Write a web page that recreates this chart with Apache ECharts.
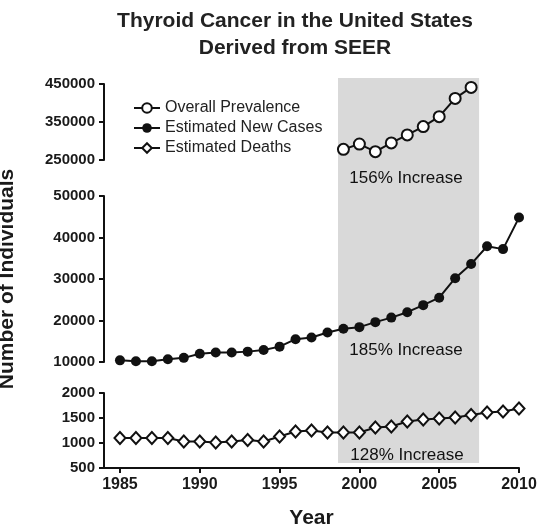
<!DOCTYPE html>
<html>
<head>
<meta charset="utf-8">
<script src="https://cdn.jsdelivr.net/npm/echarts@6/dist/echarts.min.js"></script>
<style>
  html, body { margin: 0; padding: 0; background: #fff; }
  #main { width: 540px; height: 527px; }
</style>
</head>
<body>
<div id="main"></div>
<script>
// data
var years = [1985, 1986, 1987, 1988, 1989, 1990, 1991, 1992, 1993, 1994, 1995, 1996, 1997,
  1998, 1999, 2000, 2001, 2002, 2003, 2004, 2005, 2006, 2007, 2008, 2009, 2010];
var prevYears = [1999, 2000, 2001, 2002, 2003, 2004, 2005, 2006, 2007];
var prevalence = [278000, 292000, 272000, 295000, 316000, 338000, 364000, 412000, 441000];
var newCases = [10400, 10200, 10200, 10650, 11000, 12000, 12300, 12300, 12500, 12900, 13700, 15500, 15900,
  17100, 18000, 18400, 19600, 20700, 22000, 23700, 25500, 30200, 33600, 37900, 37200, 44800];
var deaths = [1100, 1100, 1100, 1100, 1030, 1030, 1010, 1030, 1060, 1030, 1130, 1230, 1250,
  1210, 1210, 1210, 1310, 1330, 1430, 1470, 1490, 1510, 1560, 1610, 1630, 1690];
var xTicks = [1985, 1990, 1995, 2000, 2005, 2010];
var xMin = 1984;
var shadeRange = [1998.66, 2007.5];
var increaseLabels = ['156% Increase', '185% Increase', '128% Increase'];

var FONT = '"Liberation Sans", Arial, sans-serif';

function pairs(xs, ys) {
  var out = [];
  for (var i = 0; i < xs.length; i++) out.push([xs[i], ys[i]]);
  return out;
}
function plain(v) {
  return String(v);
}
// vertical line on the left edge of each panel (the y axis spine)
var spine = {
  silent: true,
  symbol: 'none',
  label: { show: false },
  lineStyle: { type: 'solid', color: '#111', width: 2 },
  data: [{ xAxis: xMin }]
};

var myChart = echarts.init(document.getElementById('main'));

var hiddenX = function (idx) {
  return { type: 'value', gridIndex: idx, min: xMin, max: 2010, show: false };
};
var yAxisBase = function (idx, min, max, step) {
  return {
    type: 'value', gridIndex: idx, min: min, max: max, interval: step,
    axisLine: { show: true, onZero: false, lineStyle: { color: '#111', width: 2 } },
    axisTick: { show: true, length: 5, lineStyle: { color: '#111', width: 2 } },
    axisLabel: { color: '#1a1a1a', fontFamily: FONT, fontWeight: 'bold', fontSize: 15, margin: 9, formatter: plain },
    splitLine: { show: false }
  };
};
var gridBox = function (top, height) {
  return { left: 104, right: 21, top: top, height: height, containLabel: false, outerBoundsMode: 'none' };
};

var option = {
  animation: false,
  grid: [
    gridBox(84, 76),
    gridBox(196, 166),
    gridBox(393, 75),
    // grid for the shaded band across all panels
    gridBox(78, 385)
  ],
  xAxis: [
    hiddenX(0),
    hiddenX(1),
    {
      type: 'value', gridIndex: 2, min: xMin, max: 2010,
      name: 'Year', nameLocation: 'middle', nameGap: 40,
      nameTextStyle: { color: '#1a1a1a', fontFamily: FONT, fontWeight: 'bold', fontSize: 21 },
      axisLine: { show: true, onZero: false, lineStyle: { color: '#111', width: 2 } },
      axisTick: { show: true, length: 5, customValues: xTicks, lineStyle: { color: '#111', width: 2 } },
      axisLabel: { customValues: xTicks, color: '#1a1a1a', fontFamily: FONT, fontWeight: 'bold', fontSize: 16, margin: 9, formatter: plain },
      splitLine: { show: false }
    },
    hiddenX(3)
  ],
  yAxis: [
    yAxisBase(0, 250000, 450000, 100000),
    Object.assign(yAxisBase(1, 10000, 50000, 10000), {
      name: 'Number of Individuals', nameLocation: 'middle', nameGap: 86,
      nameTextStyle: { color: '#1a1a1a', fontFamily: FONT, fontWeight: 'bold', fontSize: 21 }
    }),
    yAxisBase(2, 500, 2000, 500),
    { type: 'value', gridIndex: 3, min: 0, max: 1, show: false }
  ],
  legend: {
    orient: 'vertical',
    left: 128,
    top: 95,
    itemWidth: 26,
    itemHeight: 12,
    itemGap: 4,
    data: ['Overall Prevalence', 'Estimated New Cases', 'Estimated Deaths'],
    textStyle: { color: '#222', fontFamily: FONT, fontSize: 16, lineHeight: 16 }
  },
  graphic: [
    {
      type: 'text', z: 10, x: 295, y: 8,
      style: {
        text: 'Thyroid Cancer in the United States\nDerived from SEER',
        fill: '#222', font: 'bold 21px ' + FONT, align: 'center', lineHeight: 27
      }
    },
    {
      type: 'text', z: 10, x: 406, y: 178,
      style: { text: increaseLabels[0], fill: '#111', font: '17px ' + FONT, align: 'center', verticalAlign: 'middle' }
    },
    {
      type: 'text', z: 10, x: 406, y: 350,
      style: { text: increaseLabels[1], fill: '#111', font: '17px ' + FONT, align: 'center', verticalAlign: 'middle' }
    },
    {
      type: 'text', z: 10, x: 407, y: 455,
      style: { text: increaseLabels[2], fill: '#111', font: '17px ' + FONT, align: 'center', verticalAlign: 'middle' }
    }
  ],
  series: [
    {
      name: 'shade', type: 'line', xAxisIndex: 3, yAxisIndex: 3, data: [], z: 0,
      markArea: {
        itemStyle: { color: '#d9d9d9' },
        data: [[{ xAxis: shadeRange[0] }, { xAxis: shadeRange[1] }]]
      }
    },
    {
      name: 'Overall Prevalence', type: 'line', xAxisIndex: 0, yAxisIndex: 0,
      data: pairs(prevYears, prevalence),
      symbol: 'emptyCircle', symbolSize: 11,
      lineStyle: { color: '#111', width: 2 },
      itemStyle: { color: '#111', borderColor: '#111', borderWidth: 2 },
      markLine: spine
    },
    {
      name: 'Estimated New Cases', type: 'line', xAxisIndex: 1, yAxisIndex: 1,
      data: pairs(years, newCases),
      symbol: 'circle', symbolSize: 10,
      lineStyle: { color: '#111', width: 2 },
      itemStyle: { color: '#111' },
      markLine: spine
    },
    {
      name: 'Estimated Deaths', type: 'line', xAxisIndex: 2, yAxisIndex: 2,
      data: pairs(years, deaths),
      symbol: 'emptyDiamond', symbolSize: [11, 12],
      lineStyle: { color: '#111', width: 2 },
      itemStyle: { color: '#111', borderColor: '#111', borderWidth: 2 },
      markLine: spine
    }
  ]
};

if (option && typeof option === 'object') {
  myChart.setOption(option);
}
window.addEventListener('resize', function () {
  myChart.resize();
});
</script>
</body>
</html>
